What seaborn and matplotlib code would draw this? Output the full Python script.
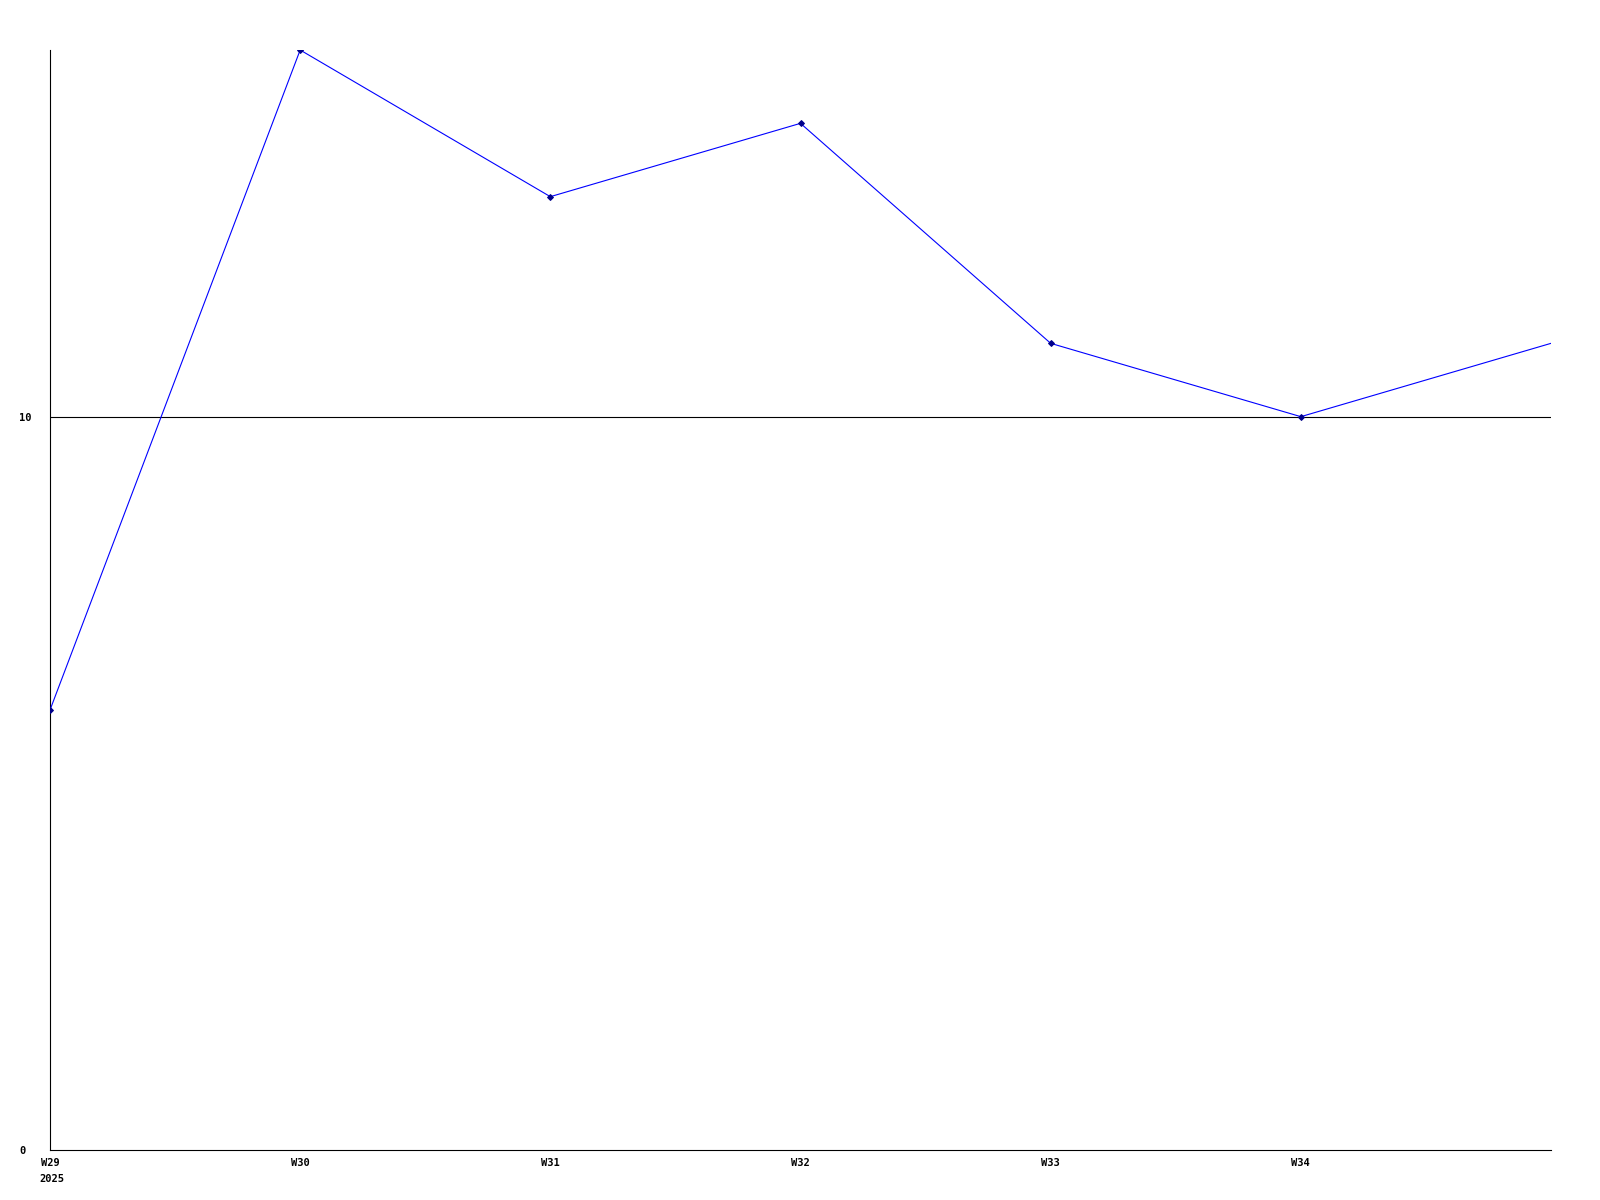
import matplotlib as mpl
mpl.use("Agg")
import matplotlib.pyplot as plt
import seaborn as sns
import pandas as pd

# weekly values
weeks = ["W29", "W30", "W31", "W32", "W33", "W34", "W35"]
values = [6, 15, 13, 14, 11, 10, 11]
year_label = "2025"

df = pd.DataFrame({"pos": range(len(weeks)), "week": weeks, "value": values})

sns.set_theme(style="white")
plt.rcParams['font.family'] = ['DejaVu Sans Mono']

fig = plt.figure(figsize=(16, 12), dpi=100)
ax = fig.add_axes([50 / 1600, 1 - 1150 / 1200, 1501 / 1600, 1100 / 1200])

ax.axhline(10, color="black", lw=0.8, zorder=1)
sns.lineplot(data=df, x="pos", y="value", ax=ax, color="#0000ff", lw=0.8,
             marker="D", markersize=3, markeredgecolor="#00008b",
             markerfacecolor="#00008b", markevery=list(range(6)), zorder=3)

ax.set_xlim(0, 6)
ax.set_ylim(0, 15)
ax.set_xticks(range(6))
ax.set_xticklabels(weeks[:6], fontsize=7.5, fontweight="bold", color="black")
ax.set_yticks([0, 10])
ax.set_yticklabels(["0", "10"], fontsize=7.5, fontweight="bold", ha="left", color="black")
ax.tick_params(axis="x", length=0, pad=6)
ax.tick_params(axis="y", length=0, pad=22)
ax.annotate(year_label, xy=(0, 0), xytext=(-7.3, -17), textcoords="offset points",
            ha="left", va="top", fontsize=7.5, fontweight="bold", color="black")

for s in ["top", "right"]:
    ax.spines[s].set_visible(False)
for s in ["left", "bottom"]:
    ax.spines[s].set_color("black")
    ax.spines[s].set_linewidth(0.8)
ax.set_xlabel("")
ax.set_ylabel("")

fig.savefig("out.png", dpi=100, facecolor="white")
